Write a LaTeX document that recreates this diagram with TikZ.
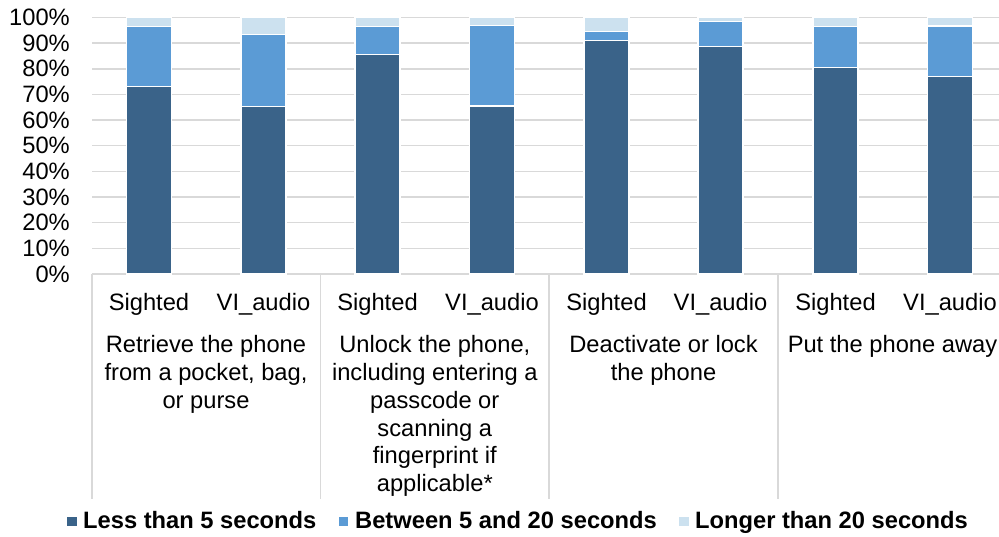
\documentclass[tikz,border=0pt]{standalone}
\usepackage{fontspec}
\setmainfont{Liberation Sans}

\definecolor{lessfive}{HTML}{3A6389}
\definecolor{fivetwenty}{HTML}{5B9BD5}
\definecolor{overtwenty}{HTML}{CCE1EF}
\definecolor{gridgray}{HTML}{D9D9D9}

\tikzset{
    label/.style={font=\fontsize{23.7}{27.8}\selectfont, inner sep=0pt},
    seg/.style={draw=white, line width=1.2pt},
    grid line/.style={gridgray, line width=1.5pt},
    keybox/.style={minimum size=9.5pt, inner sep=0pt}
}

\begin{document}
\begin{tikzpicture}[x=1pt, y=-1pt]
    \useasboundingbox (0,0) rectangle (999,537);
    \clip (0,0) rectangle (999,537);

    % Gridlines and percent ticks
    \foreach \p [count=\i from 0] in {0,10,...,100} {
        \draw[grid line] (92,{274-2.565*\p}) -- (1010,{274-2.565*\p});
        \node[label, anchor=east] (tick\i) at (70,{274-2.565*\p}) {\p\%};
    }

    % Stacked bars
    \foreach \cx/\a/\b [count=\i] in {149/73.2/96.4, 263.5/65.4/93.5, 377.5/85.7/96.4, 492/65.5/96.8,
                                      606.5/91.1/94.6, 720.5/88.6/98.5, 835.5/80.4/96.4, 950/76.9/96.7} {
        \filldraw[seg, fill=lessfive] ({\cx-22.5},274) rectangle ({\cx+22.5},{274-2.565*\a});
        \filldraw[seg, fill=fivetwenty] ({\cx-22.5},{274-2.565*\a}) rectangle ({\cx+22.5},{274-2.565*\b});
        \filldraw[seg, fill=overtwenty] ({\cx-22.5},{274-2.565*\b}) rectangle ({\cx+22.5},17.5);
    }

    % Category separators
    \foreach \sx in {92,320.7,549,778,1007}
        \draw[grid line] (\sx,274) -- (\sx,499);

    % Group labels
    \foreach \cx/\name [count=\i] in {149/Sighted, 263.5/VI\_audio, 377.5/Sighted, 492/VI\_audio,
                                      606.5/Sighted, 720.5/VI\_audio, 835.5/Sighted, 950/VI\_audio}
        \node[label, anchor=base] (grp\i) at (\cx,310.5) {\name};

    % Task labels (base = baseline of the last line)
    \node[label, anchor=base, align=center] (task1) at (206,408.3)
        {Retrieve the phone\\from a pocket, bag,\\or purse};
    \node[label, anchor=base, align=center] (task2) at (434.8,491.7)
        {Unlock the phone,\\including entering a\\passcode or\\scanning a\\fingerprint if\\applicable*};
    \node[label, anchor=base, align=center] (task3) at (663.5,380.5)
        {Deactivate or lock\\the phone};
    \node[label, anchor=base, align=center] (task4) at (892.5,352.7)
        {Put the phone away};

    % Legend
    \node[keybox, fill=lessfive] (mark1) at (72,521.5) {};
    \node[label, anchor=base west, font=\fontsize{23.7}{27.8}\selectfont\bfseries] (key1) at (83,528.3) {Less than 5 seconds};
    \node[keybox, fill=fivetwenty] (mark2) at (343.5,521.5) {};
    \node[label, anchor=base west, font=\fontsize{23.7}{27.8}\selectfont\bfseries] (key2) at (355,528.3) {Between 5 and 20 seconds};
    \node[keybox, fill=overtwenty] (mark3) at (684,521.5) {};
    \node[label, anchor=base west, font=\fontsize{23.7}{27.8}\selectfont\bfseries] (key3) at (695,528.3) {Longer than 20 seconds};
\end{tikzpicture}
\end{document}
